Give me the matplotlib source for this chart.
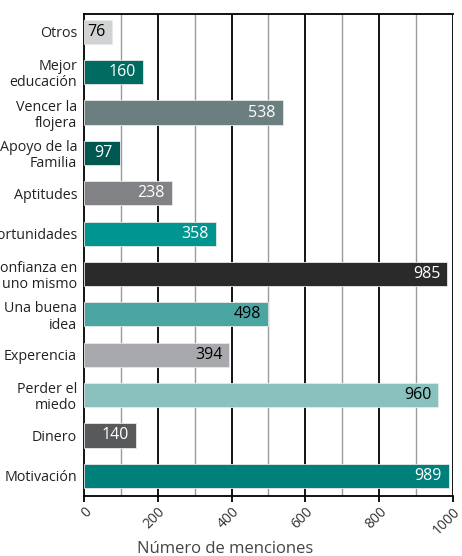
import matplotlib.pyplot as plt
import numpy as np

# data, top to bottom
labels = ["Otros", "Mejor\neducación", "Vencer la\nflojera", "Apoyo de la\nFamilia",
          "Aptitudes", "Oportunidades", "Confianza en\nuno mismo", "Una buena\nidea",
          "Experencia", "Perder el\nmiedo", "Dinero", "Motivación"]
values = [76, 160, 538, 97, 238, 358, 985, 498, 394, 960, 140, 989]
colors = ["#d1d2d4", "#006b60", "#6c7f80", "#005750", "#808285", "#00968f",
          "#2a2a2a", "#4ba6a3", "#a7a9ac", "#88c1be", "#58595b", "#00807a"]
text_colors = ["black", "white", "white", "white", "white", "white",
               "white", "black", "black", "black", "white", "white"]
xticks = [0, 200, 400, 600, 800, 1000]

plt.rcParams['font.family'] = ['Open Sans', 'DejaVu Sans']

fig = plt.figure(figsize=(4.62, 5.56), dpi=100)
ax = fig.add_axes([0.1818, 0.1079, 0.7987, 0.8669])

y = np.arange(len(labels))

# grid lines: minor grey, major black
for x in range(100, 1000, 200):
    ax.axvline(x, color="#9a9a9a", lw=1.0, zorder=1)
for x in xticks[1:]:
    ax.axvline(x, color="black", lw=1.3, zorder=1)

bars = ax.barh(y, values, height=0.6, color=colors, edgecolor="#e8e8e8",
               linewidth=0.6, zorder=3)

# value labels inside the bars
for yi, v, tc in zip(y, values, text_colors):
    ax.annotate(str(v), xy=(v, yi), xytext=(-5, 0), textcoords="offset points",
                ha="right", va="center", color=tc, fontsize=11.5, zorder=4)

ax.set_ylim(11.5, -0.44)
ax.set_xlim(0, 1000)
ax.set_yticks(y)
ax.set_yticklabels(labels, fontsize=10.3, linespacing=1.12, color="#222222")
for t in ax.get_yticklabels():
    t.set_multialignment("right")
ax.tick_params(axis="y", length=0, pad=5)
ax.set_xticks(xticks)
ax.set_xticklabels([str(t) for t in xticks], rotation=45, ha="right",
                   rotation_mode="anchor", fontsize=10, color="#333333")
ax.tick_params(axis="x", length=4, width=1.3, color="black", pad=2)

for side in ["left", "bottom", "top"]:
    ax.spines[side].set_color("black")
    ax.spines[side].set_linewidth(1.3)
ax.spines["right"].set_visible(False)

ax.set_xlabel("Número de menciones", fontsize=12, color="#444444", va="baseline")
ax.xaxis.set_label_coords(0.382, -0.118)

fig.savefig("out.png", dpi=100)
